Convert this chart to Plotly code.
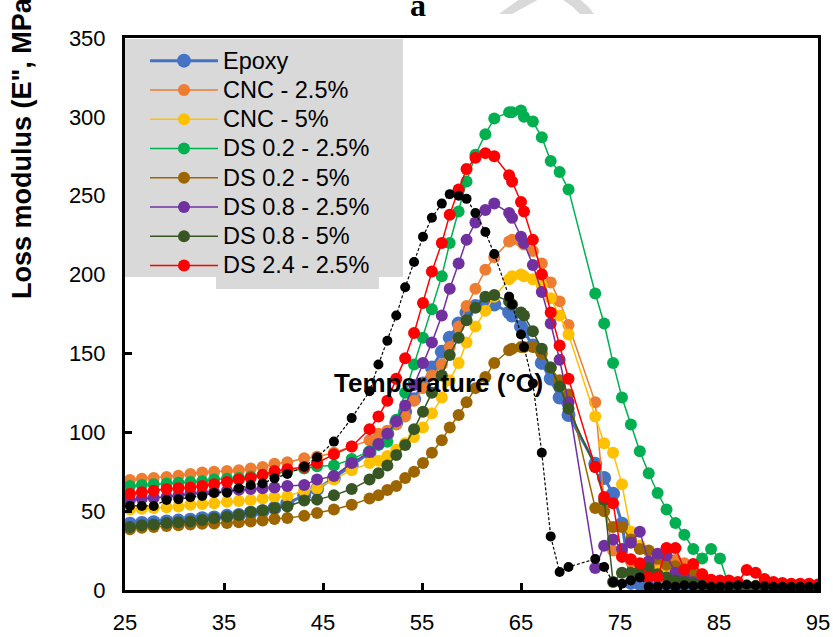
import plotly.graph_objects as go

# ---------------- data ----------------
temperature = [25.5, 26.7, 27.9, 29.2, 30.4, 31.6, 32.8, 34.0, 35.3, 36.5, 37.7, 38.9, 40.1, 41.4,
               43.1, 44.4, 46.1, 47.9, 49.7, 50.6, 51.5, 52.4, 53.3, 54.2, 55.1, 56.0, 57.0, 57.8,
               58.7, 59.5, 60.4, 61.4, 62.3, 63.8, 64.1, 65.0, 65.3, 66.2, 67.1, 68.0, 68.9, 69.8,
               72.5, 73.4, 74.3, 75.2, 76.1, 77.0, 77.9, 78.8, 79.7, 80.6, 81.5, 82.4, 83.3, 84.2,
               85.1, 86.0, 86.9, 87.8, 88.7, 89.6, 90.5, 91.4, 92.3, 93.2, 94.1, 95.0]

epoxy = [42, 42.5, 43, 43.5, 44, 44.5, 45.5, 46, 47, 47.5, 49, 50, 52, 55,
         60, 64, 71, 79, 87, 93, 99, 106, 113, 121, 131, 141, 151, 160,
         169, 176, 180, 182, 181, 176, 174, 167, 164, 155, 144, 134, 122, 111,
         80, 71, 61, 42, 4.5, 4, 2, 1.5, 1, 1, 1, 1, 0.8, 0.8,
         0.8, 0.7, 0.7, 0.7, 0.7, 0.7, 0.7, 0.7, 0.7, 0.7, 0.7, 0.7]

cnc_25 = [69.8, 70.5, 71, 71.7, 72.5, 73.5, 74.5, 75, 75.5, 76, 77, 78, 80, 81,
          83.5, 84.5, 87, 91, 95, 99, 101, 105, 110, 120, 128, 136, 143, 154,
          167, 180, 191, 203, 211, 221, 222, 221, 219, 215, 207, 195, 183, 168,
          119, 55, 25, 22, 18, 15, 15, 17, 20, 19, 17, 14, 10, 6,
          4, 3, 3, 2.5, 2.5, 2, 2, 2, 2, 2, 2, 2]

cnc_5 = [51, 51.5, 52, 52.5, 53, 54, 54.5, 55, 56, 56.5, 57, 58, 59, 59.5,
         63, 64.5, 70, 76, 80.5, 82, 85, 89, 93, 97, 103, 112, 122, 133,
         144, 157, 167, 177, 186, 197, 199, 200, 199, 197, 193, 185, 174, 162,
         110, 93, 87, 67, 37, 28, 18, 12, 10, 8, 6, 5, 4, 3,
         2, 2, 2, 2, 2, 2, 2, 2, 2, 2, 2, 2]

ds02_25 = [66, 66.5, 67, 67.5, 68, 68.5, 69, 70, 70.5, 71, 72, 73, 74, 75,
           77, 78.5, 79, 83, 88, 92, 94, 108, 125, 143, 160, 178, 199, 220,
           240, 259, 276, 289, 299, 303, 303, 304, 300, 297, 287, 272, 265, 254,
           188, 169, 144, 122, 105, 88, 74, 61.5, 51, 42.5, 35, 26, 20, 26,
           20, 2.5, 2.5, 2.5, 2.5, 2.5, 3, 3, 3, 3, 3, 3]

ds02_5 = [38.5, 39.5, 40, 40.6, 41, 41.5, 42, 42.2, 42.5, 43, 43.4, 44, 45, 45.6,
          47, 48.8, 51, 54, 58, 60, 63.4, 66, 71, 75, 80.5, 87, 95, 103,
          111, 119, 128, 135, 144, 152, 153, 154, 154, 154, 150, 141, 133, 124,
          52, 50, 40, 40, 32, 26, 25, 20, 16, 15, 12, 10, 8, 6,
          4, 3, 2.5, 2.5, 2, 2, 2, 2, 2, 2, 2, 2]

ds08_25 = [57, 58, 58.5, 59, 60, 61, 61.5, 62, 63, 63.5, 64, 64.5, 65, 66,
           66.6, 70, 72.3, 80.5, 87.5, 92.6, 99, 107, 117, 130, 144, 157, 174, 191,
           207, 222, 233, 241, 245, 239, 236, 224, 220, 206, 189, 169, 146, 119,
           14, 28, 32, 26, 30, 37, 18, 23, 22, 11, 8, 5, 4, 3,
           2.5, 2.5, 2, 2, 2, 2, 2, 2, 2, 2, 2, 2]

ds08_5 = [40, 41, 41.5, 42.5, 43, 43.5, 44.4, 45.5, 46.5, 47.6, 49.5, 50.5, 52, 53,
          56.7, 57.3, 60, 64, 70, 74, 79, 85.6, 92, 102, 113, 125, 136, 149,
          160, 171, 179, 186, 187, 183, 181, 176, 174, 164, 153, 141, 129, 115,
          78, 57, 5, 11, 11, 12, 14, 10, 8, 6, 5, 4, 3, 2.5,
          2, 2, 2, 2, 2, 2, 2, 2, 2, 2, 2, 2]

ds24_25 = [61, 62, 63, 64, 64.5, 65, 66, 67, 68.5, 70, 71, 73, 75.5, 76.5,
           78, 80.5, 86, 91, 102, 110, 120, 134, 147, 163, 182, 202, 220, 238,
           254, 267, 274, 277, 275, 263, 259, 246, 240, 222, 200, 176, 155, 134,
           78, 59, 55, 21, 19.5, 17, 8, 8, 26.6, 26.6, 13, 16.5, 10, 6.5,
           6, 6, 5, 12.7, 11, 7, 5, 4.5, 4, 4, 4, 3.5]

ref_black = [53.3, 53.3, 53.3, 57.1, 57.5, 58.8, 59.6, 61.7, 61.7, 64.5, 66.6, 67.6, 70.8, 73.6,
             78.2, 84.1, 94.1, 109, 126, 143, 158, 174, 192, 208, 224, 236, 245, 251,
             250, 248, 239, 227, 213, 186, 181, 162, 154, 131, 87, 34, 11.4, 14.6,
             19.7, 14.6, 5, 4, 6, 8, 2, 2, 3, 2, 3, 2.5, 3, 2,
             2, 2.5, 3, 3.5, 3, 2.5, 2, 2, 2, 2, 2, 2]

series_names = ["Epoxy", "CNC - 2.5%", "CNC - 5%", "DS 0.2 - 2.5%", "DS 0.2 - 5%",
                "DS 0.8 - 2.5%", "DS 0.8 - 5%", "DS 2.4 - 2.5%"]
series_values = [epoxy, cnc_25, cnc_5, ds02_25, ds02_5, ds08_25, ds08_5, ds24_25]
series_colors = ["#4472C4", "#ED7D31", "#FFC000", "#00B050", "#9C6500",
                 "#7030A0", "#375623", "#FF0000"]

x_ticks = [25, 35, 45, 55, 65, 75, 85, 95]
y_ticks = [0, 50, 100, 150, 200, 250, 300, 350]

# ---------------- layout geometry helpers (pixel -> paper) ----------------
W, H = 833, 637
L, R, T, B = 125, 15, 38, 47
PW, PH = W - L - R, H - T - B


def px(x):
    return (x - L) / PW


def py(y):
    return (H - B - y) / PH


FONT = "Liberation Sans, Arial, sans-serif"
LEG_SIZE = 20.2      # controls legend row spacing
LEG_TEXT = 23.5      # visual size of legend text

fig = go.Figure()
for name, vals, col in zip(series_names, series_values, series_colors):
    is_epoxy = name == "Epoxy"
    fig.add_trace(go.Scatter(
        x=temperature, y=vals, mode="lines+markers",
        name=f'<span style="font-size:{LEG_TEXT}px">{name}</span>',
        line=dict(color=col, width=3 if is_epoxy else 1.5),
        marker=dict(color=col, size=14 if is_epoxy else 12),
    ))

fig.add_trace(go.Scatter(
    x=temperature, y=ref_black, mode="lines+markers", showlegend=False,
    line=dict(color="black", width=1.2, dash="3px,2px"),
    marker=dict(color="black", size=10),
))

axis_common = dict(
    showline=True, linecolor="black", linewidth=3, mirror=True,
    ticks="inside", ticklen=7, tickwidth=3, tickcolor="black",
    showgrid=False, zeroline=False, automargin=False,
    tickfont=dict(family=FONT, size=22, color="black"),
)

fig.update_xaxes(range=[25, 95], tickvals=x_ticks, ticklabelstandoff=11, **axis_common)
fig.update_yaxes(range=[0, 350], tickvals=y_ticks, ticklabelstandoff=12, **axis_common)

shapes = [
    # legend background (main box + lower strip)
    dict(type="rect", xref="paper", yref="paper", x0=px(125), x1=px(403), y0=py(277), y1=py(39),
         fillcolor="#D9D9D9", line=dict(width=0), layer="above"),
    dict(type="rect", xref="paper", yref="paper", x0=px(216), x1=px(379), y0=py(289), y1=py(276),
         fillcolor="#D9D9D9", line=dict(width=0), layer="above"),
    # watermark fragments at the top
    dict(type="path", xref="paper", yref="paper",
         path=f"M{px(499)},{py(14)} L{px(512)},{py(14)} L{px(541)},{py(-2)} L{px(521)},{py(-2)} Z",
         fillcolor="#D9D9D9", line=dict(width=0), layer="below"),
    dict(type="path", xref="paper", yref="paper",
         path=f"M{px(552)},{py(-2)} L{px(578)},{py(-2)} Q{px(588)},{py(5)} {px(594)},{py(14)} "
              f"L{px(580)},{py(14)} Q{px(572)},{py(5)} {px(560)},{py(-2)} Z",
         fillcolor="#D9D9D9", line=dict(width=0), layer="below"),
]

annotations = [
    dict(text="<b>Loss modulus (E\", MPa)</b>", textangle=-90, xref="paper", yref="paper",
         x=px(22), y=py(144), xanchor="center", yanchor="middle", showarrow=False,
         font=dict(family=FONT, size=27, color="black")),
    dict(text="<b>Temperature (°C)</b>", xref="paper", yref="paper",
         x=px(438), y=py(383), xanchor="center", yanchor="middle", showarrow=False,
         font=dict(family=FONT, size=26, color="black")),
    dict(text="<b>a</b>", xref="paper", yref="paper",
         x=px(418), y=py(5), xanchor="center", yanchor="middle", showarrow=False,
         font=dict(family="Liberation Serif, Times New Roman, serif", size=32, color="black")),
]

fig.update_layout(
    width=W, height=H,
    margin=dict(l=L, r=R, t=T, b=B, autoexpand=False),
    paper_bgcolor="white", plot_bgcolor="white",
    showlegend=True,
    legend=dict(x=px(145), y=py(41), xanchor="left", yanchor="top",
                bgcolor="rgba(0,0,0,0)", borderwidth=0, itemwidth=68,
                font=dict(family=FONT, size=LEG_SIZE, color="black"), tracegroupgap=0),
    shapes=shapes, annotations=annotations,
)

fig.write_html("out.html")
